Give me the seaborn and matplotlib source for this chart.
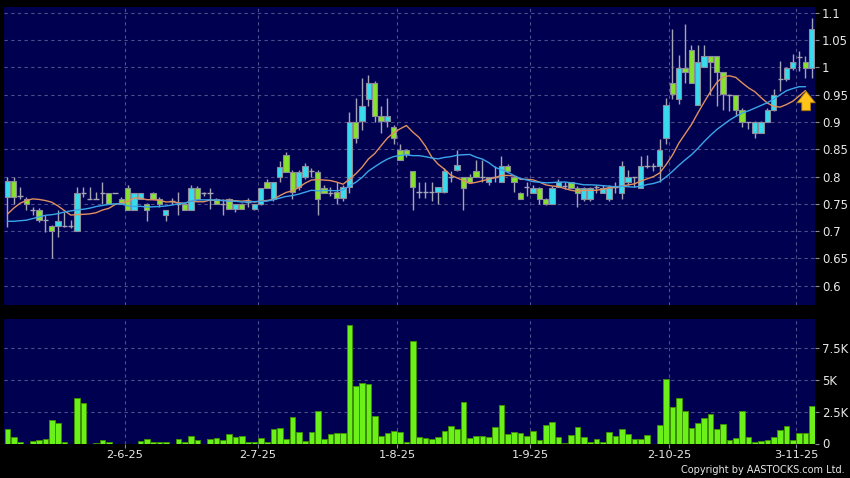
import numpy as np
import pandas as pd
import matplotlib
matplotlib.use("Agg")
import matplotlib.pyplot as plt
import seaborn as sns
from matplotlib.ticker import FuncFormatter, FixedLocator, NullLocator

# ---------------- data ----------------
opens = [0.762, 0.792, 0.765, 0.758, 0.739, 0.738, 0.72, 0.709, 0.709, 0.709,
         0.71, 0.70, 0.77, 0.759, 0.759, 0.77, 0.77, 0.77, 0.759, 0.779,
         0.739, 0.759, 0.749, 0.77, 0.759, 0.729, 0.755, 0.75, 0.749, 0.739,
         0.779, 0.77, 0.77, 0.759, 0.75, 0.759, 0.74, 0.75, 0.753, 0.74,
         0.75, 0.79, 0.759, 0.799, 0.839, 0.809, 0.78, 0.799, 0.81, 0.809,
         0.779, 0.77, 0.771, 0.761, 0.78, 0.90, 0.902, 0.942, 0.971, 0.91,
         0.902, 0.89, 0.849, 0.849, 0.81, 0.771, 0.771, 0.771, 0.771, 0.771,
         0.80, 0.811, 0.80, 0.80, 0.81, 0.80, 0.79, 0.80, 0.79, 0.82,
         0.80, 0.77, 0.78, 0.77, 0.779, 0.759, 0.75, 0.78, 0.783, 0.79,
         0.779, 0.759, 0.759, 0.78, 0.77, 0.759, 0.78, 0.77, 0.79, 0.80,
         0.779, 0.82, 0.82, 0.82, 0.87, 0.971, 0.942, 0.999, 1.032, 0.931,
         1.001, 1.02, 1.02, 0.991, 0.95, 0.949, 0.921, 0.90, 0.879, 0.879,
         0.90, 0.921, 0.979, 0.979, 0.999, 1.018, 1.009, 0.999]
highs = [0.80, 0.80, 0.78, 0.762, 0.745, 0.743, 0.729, 0.711, 0.738, 0.735,
         0.72, 0.78, 0.78, 0.78, 0.771, 0.79, 0.77, 0.77, 0.762, 0.785,
         0.77, 0.77, 0.752, 0.772, 0.762, 0.739, 0.76, 0.771, 0.749, 0.785,
         0.782, 0.772, 0.779, 0.76, 0.759, 0.76, 0.75, 0.752, 0.76, 0.75,
         0.779, 0.795, 0.79, 0.829, 0.845, 0.812, 0.812, 0.825, 0.815, 0.812,
         0.785, 0.78, 0.79, 0.785, 0.919, 0.943, 0.98, 0.985, 0.975, 0.93,
         0.943, 0.895, 0.86, 0.85, 0.81, 0.79, 0.79, 0.79, 0.78, 0.815,
         0.81, 0.849, 0.80, 0.805, 0.83, 0.83, 0.80, 0.82, 0.838, 0.822,
         0.80, 0.772, 0.79, 0.785, 0.78, 0.76, 0.782, 0.795, 0.79, 0.79,
         0.782, 0.78, 0.78, 0.785, 0.785, 0.785, 0.79, 0.829, 0.812, 0.80,
         0.838, 0.84, 0.825, 0.869, 0.943, 1.071, 1.023, 1.08, 1.041, 1.041,
         1.041, 1.02, 1.02, 0.991, 0.951, 0.95, 0.925, 0.90, 0.902, 0.902,
         0.925, 0.96, 1.012, 1.0, 1.025, 1.03, 1.02, 1.09]
lows = [0.708, 0.75, 0.759, 0.739, 0.729, 0.716, 0.698, 0.65, 0.689, 0.708,
        0.705, 0.70, 0.762, 0.759, 0.759, 0.75, 0.75, 0.77, 0.749, 0.739,
        0.739, 0.759, 0.718, 0.759, 0.745, 0.718, 0.75, 0.73, 0.739, 0.739,
        0.759, 0.765, 0.74, 0.75, 0.729, 0.74, 0.735, 0.74, 0.745, 0.738,
        0.748, 0.779, 0.755, 0.79, 0.809, 0.759, 0.775, 0.795, 0.80, 0.73,
        0.77, 0.765, 0.749, 0.755, 0.77, 0.861, 0.885, 0.93, 0.90, 0.88,
        0.89, 0.86, 0.83, 0.835, 0.739, 0.76, 0.76, 0.755, 0.75, 0.77,
        0.79, 0.81, 0.739, 0.79, 0.80, 0.79, 0.785, 0.79, 0.79, 0.81,
        0.771, 0.759, 0.765, 0.77, 0.75, 0.748, 0.75, 0.78, 0.778, 0.779,
        0.745, 0.755, 0.755, 0.77, 0.77, 0.755, 0.77, 0.759, 0.785, 0.78,
        0.779, 0.815, 0.81, 0.79, 0.86, 0.942, 0.932, 0.971, 0.971, 0.931,
        1.0, 0.95, 0.93, 0.922, 0.92, 0.91, 0.89, 0.887, 0.87, 0.879,
        0.90, 0.92, 0.957, 0.975, 0.995, 0.994, 0.98, 0.98]
closes = [0.792, 0.762, 0.765, 0.75, 0.739, 0.72, 0.72, 0.70, 0.719, 0.709,
          0.71, 0.77, 0.77, 0.759, 0.759, 0.77, 0.75, 0.77, 0.749, 0.739,
          0.77, 0.77, 0.739, 0.759, 0.749, 0.739, 0.755, 0.75, 0.739, 0.779,
          0.759, 0.77, 0.77, 0.75, 0.75, 0.74, 0.75, 0.74, 0.753, 0.75,
          0.779, 0.779, 0.79, 0.818, 0.809, 0.771, 0.809, 0.82, 0.81, 0.759,
          0.77, 0.77, 0.761, 0.78, 0.90, 0.87, 0.93, 0.971, 0.91, 0.902,
          0.91, 0.87, 0.83, 0.841, 0.78, 0.771, 0.771, 0.771, 0.78, 0.81,
          0.80, 0.821, 0.779, 0.79, 0.80, 0.80, 0.80, 0.80, 0.82, 0.81,
          0.79, 0.759, 0.78, 0.779, 0.759, 0.75, 0.779, 0.79, 0.783, 0.779,
          0.77, 0.779, 0.779, 0.78, 0.779, 0.779, 0.78, 0.82, 0.80, 0.80,
          0.82, 0.82, 0.82, 0.849, 0.931, 0.951, 0.999, 0.991, 0.971, 1.01,
          1.02, 1.01, 0.991, 0.951, 0.95, 0.921, 0.90, 0.90, 0.90, 0.90,
          0.921, 0.949, 0.979, 0.999, 1.009, 1.018, 0.999, 1.07]
volume_k = [1.13, 0.5, 0.08, 0.0, 0.18, 0.24, 0.32, 1.84, 1.6, 0.08,
            0.0, 3.6, 3.18, 0.0, 0.02, 0.26, 0.13, 0.0, 0.0, 0.0,
            0.0, 0.21, 0.34, 0.08, 0.08, 0.13, 0.0, 0.32, 0.13, 0.63,
            0.24, 0.0, 0.34, 0.42, 0.26, 0.71, 0.5, 0.63, 0.13, 0.1,
            0.47, 0.08, 1.18, 1.26, 0.32, 2.1, 0.92, 0.16, 0.92, 2.6,
            0.39, 0.74, 0.84, 0.84, 9.3, 4.55, 4.8, 4.66, 2.16, 0.6,
            0.82, 0.95, 0.87, 0.1, 8.05, 0.5, 0.47, 0.34, 0.53, 1.0,
            1.34, 1.13, 3.3, 0.45, 0.6, 0.58, 0.5, 1.29, 3.0, 0.76,
            0.89, 0.84, 0.58, 1.0, 0.26, 1.42, 1.66, 0.53, 0.05, 0.66,
            1.29, 0.53, 0.08, 0.39, 0.08, 0.87, 0.6, 1.18, 0.74, 0.39,
            0.32, 0.66, 0.0, 1.45, 5.05, 2.84, 3.55, 2.58, 1.26, 1.6,
            1.97, 2.29, 1.16, 1.55, 0.26, 0.45, 2.6, 0.55, 0.08, 0.16,
            0.29, 0.5, 1.03, 1.37, 0.26, 0.84, 0.79, 2.97]
# moving-average values shown before a full window exists
ma10_lead = [0.731, 0.742, 0.751, 0.756, 0.759, 0.758, 0.756, 0.753, 0.746]
ma20_lead = [0.718, 0.718, 0.719, 0.720, 0.723, 0.726, 0.729, 0.730, 0.732,
             0.735, 0.737, 0.739, 0.740, 0.742, 0.745, 0.747, 0.749, 0.750, 0.750]
date_labels = ["2-6-25", "2-7-25", "1-8-25", "1-9-25", "2-10-25", "3-11-25"]
date_label_bars = [19, 40, 62, 83, 105, 125]
price_ticks = [0.6, 0.65, 0.7, 0.75, 0.8, 0.85, 0.9, 0.95, 1.0, 1.05, 1.1]
vol_ticks = [0, 2.5, 5, 7.5]
vol_tick_labels = ["0", "2.5K", "5K", "7.5K"]

# ---------------- styling ----------------
BG = "#000050"
GRID = "#4e4e8a"
TICK = "#8a8aa0"
TXT = "#e8e8e8"
UP = "#36dcee"
DOWN = "#86e22a"
WICK = "#a4a4b4"
EDGE = "#8c8c9c"
VOL = "#6cf01a"
VOL_EDGE = "#3c9000"
MA10_C = "#e0905e"
MA20_C = "#3aa6ea"

sns.set_theme(style="dark")
plt.rcParams["font.family"] = ["DejaVu Sans"]

n = len(closes)
idx = np.arange(n)
o = np.array(opens); h = np.array(highs); l = np.array(lows); c = np.array(closes)

s = pd.Series(c)
ma10 = s.rolling(10).mean().to_numpy()
ma10[:len(ma10_lead)] = ma10_lead
ma20 = s.rolling(20).mean().to_numpy()
ma20[:len(ma20_lead)] = ma20_lead
ma_n = n - 1  # MA lines stop at the previous session

fig = plt.figure(figsize=(8.5, 4.78), dpi=100, facecolor="black")
ax = fig.add_axes([4 / 850, 1 - 305 / 478, 811 / 850, 298 / 478])
axv = fig.add_axes([4 / 850, 1 - 443.5 / 478, 811 / 850, 124.5 / 478])

for a in (ax, axv):
    a.set_facecolor(BG)
    for sp in a.spines.values():
        sp.set_visible(False)

# ---------------- price panel ----------------
vgrid = [b - 0.5 for b in date_label_bars]
for y in price_ticks:
    ax.axhline(y, color=GRID, lw=0.8, ls=(0, (3, 3)), zorder=0)
for x in vgrid:
    ax.axvline(x, color=GRID, lw=0.8, ls=(0, (3, 3)), zorder=0)

ax.vlines(idx, l, h, color=WICK, lw=1.0, zorder=2)
flat = np.isclose(o, c)
up = c > o
body_bottom = np.minimum(o, c)
body_h = np.abs(c - o)
cols = np.where(up, UP, DOWN)
ax.bar(idx[~flat], body_h[~flat], bottom=body_bottom[~flat], width=0.84,
       color=cols[~flat], edgecolor=EDGE, linewidth=0.8, zorder=3)
ax.hlines(c[flat], idx[flat] - 0.42, idx[flat] + 0.42, color=WICK, lw=1.0, zorder=3)

sns.lineplot(x=idx[:ma_n], y=ma10[:ma_n], ax=ax, color=MA10_C, lw=1.0, zorder=4)
sns.lineplot(x=idx[:ma_n], y=ma20[:ma_n], ax=ax, color=MA20_C, lw=1.0, zorder=4)

tip = ma10[ma_n - 1] + 0.004
ax.annotate("", xy=(ma_n - 0.9, tip), xytext=(ma_n - 0.9, tip - 0.046),
            arrowprops=dict(arrowstyle="simple,head_length=0.6,head_width=0.95,tail_width=0.45",
                            fc="#ffc31a", ec="#a07400", lw=0.6, mutation_scale=14),
            zorder=6)

ax.set_xlim(-0.53, n - 0.5)
ax.set_ylim(0.5647, 1.1104)
ax.yaxis.tick_right()
ax.yaxis.set_major_locator(FixedLocator(price_ticks))
ax.yaxis.set_major_formatter(FuncFormatter(lambda v, p: f"{v:g}"))
ax.xaxis.set_major_locator(NullLocator())
ax.tick_params(axis="y", colors=TICK, labelcolor=TXT, labelsize=8.5, length=3,
               width=0.8, pad=2, right=True, left=False)
ax.set_xlabel(""); ax.set_ylabel("")

# ---------------- volume panel ----------------
for y in vol_ticks[1:]:
    axv.axhline(y, color=GRID, lw=0.8, ls=(0, (3, 3)), zorder=0)
for x in vgrid:
    axv.axvline(x, color=GRID, lw=0.8, ls=(0, (3, 3)), zorder=0)

sns.barplot(x=idx, y=volume_k, ax=axv, color=VOL, saturation=1, width=0.9,
            edgecolor=VOL_EDGE, linewidth=0.7, zorder=3)

axv.set_xlim(-0.53, n - 0.5)
axv.set_ylim(0, 9.81)
axv.yaxis.tick_right()
axv.yaxis.set_major_locator(FixedLocator(vol_ticks))
axv.set_yticklabels(vol_tick_labels)
axv.set_xticks(vgrid)
axv.set_xticklabels(date_labels)
axv.tick_params(axis="y", colors=TICK, labelcolor=TXT, labelsize=8.5, length=3,
                width=0.8, pad=2, right=True, left=False)
axv.tick_params(axis="x", colors=TICK, labelcolor=TXT, labelsize=8.2, length=3,
                width=0.8, pad=2, bottom=True)
axv.set_xlabel(""); axv.set_ylabel("")

fig.text(0.994, 0.006, "Copyright by AASTOCKS.com Ltd.", ha="right", va="bottom",
         color=TXT, fontsize=7)

fig.savefig("out.png", dpi=100, facecolor="black")
